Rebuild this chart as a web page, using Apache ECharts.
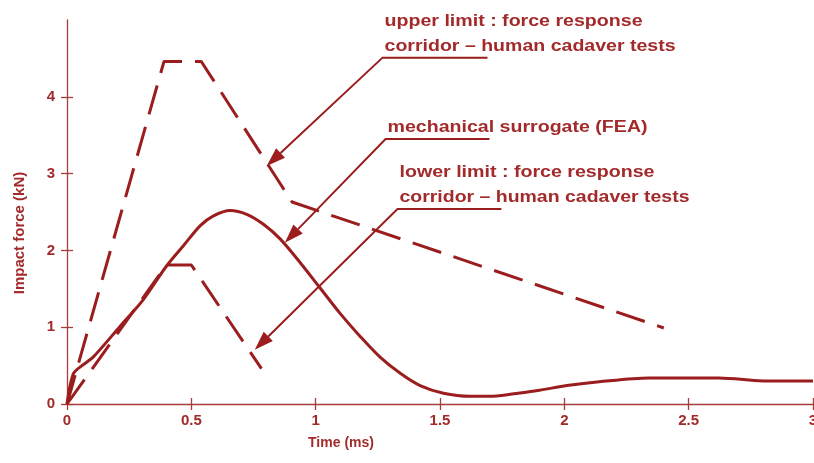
<!DOCTYPE html>
<html><head><meta charset="utf-8">
<script src="https://cdn.jsdelivr.net/npm/echarts@6/dist/echarts.min.js"></script>
<style>html,body{margin:0;padding:0;background:#fff}#c{width:814px;height:463px}</style>
</head><body><div id="c"></div>
<script>
// ---- data ----
const xTicks = [0, 0.5, 1, 1.5, 2, 2.5, 3];
const yTicks = [0, 1, 2, 3, 4];
const upperLimit = [[0,0],[0.39,4.46],[0.54,4.46],[0.905,2.63],[2.40,0.99]];
const lowerLimit = [[0,0],[0.40,1.81],[0.50,1.81],[0.782,0.46]];
const feaSurrogate = [[0,0],[0.025,0.39],[0.06,0.50],[0.105,0.61],[0.213,1.01],[0.307,1.36],[0.401,1.80],[0.468,2.06],[0.535,2.32],[0.589,2.45],[0.656,2.52],[0.723,2.47],[0.790,2.34],[0.857,2.15],[0.938,1.84],[1.018,1.51],[1.098,1.18],[1.179,0.88],[1.259,0.61],[1.340,0.40],[1.420,0.24],[1.514,0.14],[1.621,0.10],[1.70,0.10],[1.79,0.13],[1.90,0.18],[2.01,0.24],[2.14,0.29],[2.34,0.34],[2.62,0.34],[2.82,0.30],[3.0,0.30]];
const annUpperText = ['upper limit : force response', 'corridor \u2013 human cadaver tests'];
const annFeaText = ['mechanical surrogate (FEA)'];
const annLowerText = ['lower limit : force response', 'corridor \u2013 human cadaver tests'];
// leader lines in data coords: tip, elbow, underline end
const annUpperLeader = [[0.803,3.10],[1.269,4.51],[1.691,4.51]];
const annFeaLeader = [[0.876,2.10],[1.281,3.45],[1.699,3.45]];
const annLowerLeader = [[0.755,0.706],[1.329,2.54],[1.747,2.54]];
const xTitle = 'Time (ms)';
const yTitle = 'Impact force (kN)';

// ---- styles ----
const RED = '#9b1d1d', AX = '#a83c3c', TXT = '#a32a2a';
const FONT = '"Liberation Sans", Arial, sans-serif';
const DASH = [30, 13];

const chart = echarts.init(document.getElementById('c'), null, {renderer: 'canvas'});
const labelStyle = {color: TXT, fontWeight: 'bold', fontSize: 15, fontFamily: FONT};
const option = {
  animation: false,
  grid: {left: 67, right: 1, top: 20, bottom: 59, outerBoundsMode: 'none', containLabel: false},
  xAxis: [
    {type: 'value', min: 0, max: 3, interval: 0.5,
     axisLine: {lineStyle: {color: AX, width: 1.3}},
     axisTick: {length: 6, lineStyle: {color: AX, width: 1.3}},
     axisLabel: Object.assign({margin: 9, showMaxLabel: true, customValues: xTicks, formatter: v => String(v)}, labelStyle),
     splitLine: {show: false}},
    {type: 'value', min: 0, max: 3, interval: 0.5, position: 'bottom',
     axisLine: {show: false},
     axisTick: {inside: true, length: 6, lineStyle: {color: AX, width: 1.3}},
     axisLabel: {show: false}, splitLine: {show: false}}
  ],
  yAxis: [
    {type: 'value', min: 0, max: 5, interval: 1,
     axisLine: {show: true, lineStyle: {color: AX, width: 1.3}},
     axisTick: {show: true, length: 6, customValues: yTicks, lineStyle: {color: AX, width: 1.3}},
     axisLabel: Object.assign({margin: 12, customValues: yTicks}, labelStyle),
     splitLine: {show: false}},
    {type: 'value', min: 0, max: 5, interval: 1, position: 'left',
     axisLine: {show: false},
     axisTick: {show: true, inside: true, length: 6, customValues: yTicks, lineStyle: {color: AX, width: 1.3}},
     axisLabel: {show: false}, splitLine: {show: false}}
  ],
  series: [
    {name: 'upper limit', type: 'line', data: upperLimit, symbol: 'none',
     lineStyle: {color: RED, width: 3, type: DASH}},
    {name: 'lower limit', type: 'line', data: lowerLimit, symbol: 'none',
     lineStyle: {color: RED, width: 3, type: DASH}},
    {name: 'mechanical surrogate (FEA)', type: 'line', data: feaSurrogate, symbol: 'none',
     smooth: 0.3,
     lineStyle: {color: RED, width: 3}}
  ]
};
chart.setOption(option);

// ---- annotations ----
const ctx = document.createElement('canvas').getContext('2d');
const TFONT = 'bold 16px ' + FONT;
ctx.font = TFONT;
const P = d => chart.convertToPixel({gridIndex: 0}, d);
const graphics = [];
function addAnn(lines, leader, widths) {
  const T = P(leader[0]), E = P(leader[1]), U = P(leader[2]);
  const dx = T[0] - E[0], dy = T[1] - E[1], L = Math.hypot(dx, dy);
  const ux = dx / L, uy = dy / L, nx = -uy, ny = ux;
  const AL = 19, AW = 6.5;
  const B = [T[0] - ux * AL, T[1] - uy * AL];
  graphics.push({type: 'polyline', shape: {points: [U, E, B]}, style: {stroke: RED, lineWidth: 2, fill: null}, silent: true});
  graphics.push({type: 'polygon', shape: {points: [T, [B[0] + nx * AW, B[1] + ny * AW], [B[0] - nx * AW, B[1] - ny * AW]]}, style: {fill: RED}, silent: true});
  lines.forEach((t, i) => {
    const w = ctx.measureText(t).width;
    graphics.push({type: 'text', x: E[0] + 2, y: E[1] - 11 - (lines.length - 1 - i) * 25,
      scaleX: widths[i] / w, silent: true,
      style: {text: t, x: 0, y: 0, font: TFONT, fill: TXT, textVerticalAlign: 'middle', textAlign: 'left'}});
  });
}
addAnn(annUpperText, annUpperLeader, [258, 291]);
addAnn(annFeaText, annFeaLeader, [260]);
addAnn(annLowerText, annLowerLeader, [255, 290]);
graphics.push({type: 'text', x: 341, y: 443, silent: true,
  style: {text: xTitle, font: 'bold 14px ' + FONT, fill: TXT, textAlign: 'center', textVerticalAlign: 'middle'}});
graphics.push({type: 'text', x: 20, y: 233, rotation: Math.PI / 2, silent: true,
  style: {text: yTitle, font: 'bold 15px ' + FONT, fill: TXT, textAlign: 'center', textVerticalAlign: 'middle'}});
chart.setOption({graphic: graphics});
</script>
</body></html>
